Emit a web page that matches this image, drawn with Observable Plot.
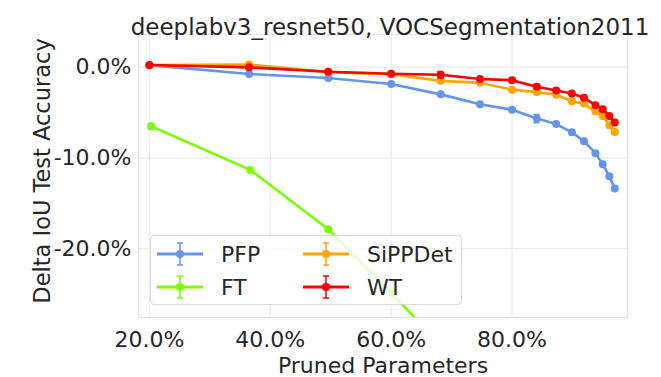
<!DOCTYPE html>
<html><head><meta charset="utf-8">
<script src="https://cdn.jsdelivr.net/npm/d3@7"></script>
<script src="https://cdn.jsdelivr.net/npm/@observablehq/plot@0.6"></script>
<style>
body{margin:0;background:#fff;font-family:"DejaVu Sans",sans-serif;}
#wrap{position:relative;width:661px;height:377px;overflow:hidden;}
.legend{position:absolute;left:150px;top:235px;width:312px;height:70px;background:rgba(255,255,255,0.8);border:1px solid #d9d9d9;border-radius:4px;box-sizing:border-box;}
.entry{position:absolute;display:flex;align-items:center;font-size:22px;color:#262626;height:30px;}
.entry svg{margin-right:18px;}
</style></head><body><div id="wrap"></div><script>
const methods = ["PFP", "FT", "SiPPDet", "WT"];
const colors = ["#6495ED", "#7CFC00", "#FFA500", "#FF0000"];
const titleText = "deeplabv3_resnet50, VOCSegmentation2011";
const xLabel = "Pruned Parameters";
const yLabel = "Delta IoU Test Accuracy";
const xTicks = [20, 40, 60, 80];
const xTickLabels = ["20.0%", "40.0%", "60.0%", "80.0%"];
const yTicks = [0, -10, -20];
const yTickLabels = ["0.0%", "-10.0%", "-20.0%"];

const prunedShared = [20.0, 36.5, 49.6, 60.0, 68.2, 74.7, 80.0, 84.1, 87.3, 89.9, 91.9, 93.8, 95.0, 96.1, 97.0];
const pfpDelta = [0.22, -0.75, -1.19, -1.85, -3.0, -4.08, -4.7, -5.67, -6.28, -7.18, -8.18, -9.48, -10.71, -12.04, -13.39];
const pfpErr = [0, 0, 0, 0, 0, 0, 0, 0.45, 0, 0.15, 0, 0.1, 0, 0, 0];
const sippdetDelta = [0.22, 0.28, -0.55, -0.77, -1.51, -1.73, -2.48, -2.75, -3.05, -3.76, -4.02, -4.9, -5.39, -6.4, -7.16];
const sippdetErr = [0, 0.2, 0, 0, 0, 0, 0, 0, 0, 0, 0, 0, 0, 0, 0];
const wtDelta = [0.24, -0.02, -0.5, -0.72, -0.83, -1.31, -1.44, -2.15, -2.57, -2.9, -3.38, -4.19, -4.64, -5.38, -6.09];
const wtErr = [0, 0, 0, 0, 0.35, 0, 0, 0.2, 0, 0, 0, 0, 0.25, 0, 0];
const ftPruned = [20.3, 36.7, 49.6, 60.0, 68.2];
const ftDelta = [-6.52, -11.33, -17.87, -24.88, -30.6];
const ftErr = [0.3, 0, 0.1, 0, 0];

function rows(method, xs, ys, es) {
  return xs.map((x, i) => ({method, x, y: ys[i], err: es[i]}));
}
const data = [
  ...rows("PFP", prunedShared, pfpDelta, pfpErr),
  ...rows("FT", ftPruned, ftDelta, ftErr),
  ...rows("SiPPDet", prunedShared, sippdetDelta, sippdetErr),
  ...rows("WT", prunedShared, wtDelta, wtErr)
];
const errs = data.filter(d => d.err > 0);

const marks = [
  Plot.gridX(xTicks, {stroke: "#ebebeb", strokeOpacity: 1, strokeWidth: 1.2}),
  Plot.gridY(yTicks, {stroke: "#ebebeb", strokeOpacity: 1, strokeWidth: 1.2}),
  Plot.frame({stroke: "#e3e3e3", strokeWidth: 1.2}),
  Plot.axisX(xTicks, {tickSize: 0, tickPadding: 14, tickFormat: (d, i) => xTickLabels[i], label: null, fontSize: 22, fill: "#262626"}),
  Plot.axisY(yTicks, {tickSize: 0, tickPadding: 7, tickFormat: (d, i) => yTickLabels[i], label: null, fontSize: 22, fill: "#262626"}),
];
for (const m of methods) {
  const sub = data.filter(d => d.method === m);
  const se = errs.filter(d => d.method === m);
  marks.push(
    Plot.line(sub, {x: "x", y: "y", stroke: "method", strokeWidth: 2.6, clip: true}),
    Plot.ruleX(se, {x: "x", y1: d => d.y - d.err, y2: d => d.y + d.err, stroke: "method", strokeWidth: 1.5, clip: true}),
    Plot.ruleY(se, {y: d => d.y - d.err, x1: d => d.x - 0.5, x2: d => d.x + 0.5, stroke: "method", strokeWidth: 1.5, clip: true}),
    Plot.ruleY(se, {y: d => d.y + d.err, x1: d => d.x - 0.5, x2: d => d.x + 0.5, stroke: "method", strokeWidth: 1.5, clip: true}),
    Plot.dot(sub, {x: "x", y: "y", fill: "method", r: 4, clip: true})
  );
}
marks.push(
  Plot.text([titleText], {frameAnchor: "top", dx: 7, dy: -16, fontSize: 23, fill: "#262626"}),
  Plot.text([xLabel], {frameAnchor: "bottom", textAnchor: "middle", lineAnchor: "bottom", dy: 55, fontSize: 22, fill: "#262626"}),
  Plot.text([yLabel], {frameAnchor: "left", textAnchor: "middle", lineAnchor: "middle", dx: -96, dy: -5, rotate: -90, fontSize: 22.5, fill: "#262626"})
);

const chart = Plot.plot({
  width: 661, height: 377,
  marginLeft: 138, marginRight: 34, marginTop: 34, marginBottom: 60,
  style: {fontFamily: "DejaVu Sans", fontSize: "22px", color: "#262626", background: "white"},
  x: {domain: [18.2, 99.1]},
  y: {domain: [-27.6, 3.6]},
  color: {domain: methods, range: colors},
  marks
});
const wrap = document.getElementById("wrap");
wrap.appendChild(chart);

// legend (matplotlib-style, inside axes)
const legend = document.createElement("div");
legend.className = "legend";
const pos = [[6, 3], [6, 36], [152, 3], [152, 36]];
methods.forEach((m, i) => {
  const e = document.createElement("div");
  e.className = "entry";
  e.style.left = pos[i][0] + "px";
  e.style.top = pos[i][1] + "px";
  const c = colors[i];
  e.innerHTML = `<svg width="46" height="26" viewBox="0 0 46 26">
    <line x1="0" y1="13" x2="46" y2="13" stroke="${c}" stroke-width="3"/>
    <line x1="23" y1="2" x2="23" y2="24" stroke="${c}" stroke-width="1.5"/>
    <line x1="20" y1="2" x2="26" y2="2" stroke="${c}" stroke-width="1.5"/>
    <line x1="20" y1="24" x2="26" y2="24" stroke="${c}" stroke-width="1.5"/>
    <circle cx="23" cy="13" r="4" fill="${c}"/></svg><span>${m}</span>`;
  legend.appendChild(e);
});
wrap.appendChild(legend);
</script></body></html>
